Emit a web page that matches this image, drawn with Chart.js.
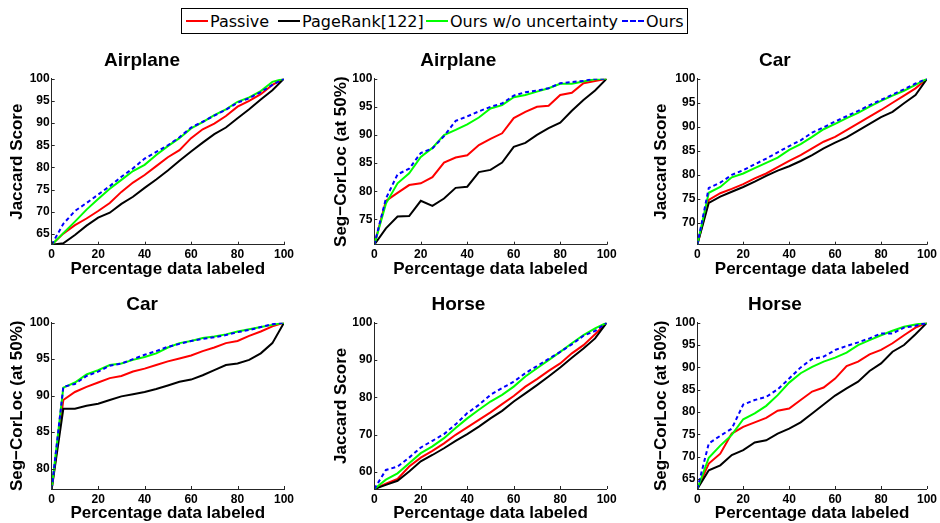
<!DOCTYPE html>
<html>
<head>
<meta charset="utf-8">
<script src="https://cdn.jsdelivr.net/npm/chart.js@4.4.1/dist/chart.umd.min.js"></script>
<style>
  html, body { margin:0; padding:0; background:#fff; overflow:hidden; width:940px; height:523px; }
  #wrap { position:relative; width:940px; height:523px; }
  canvas { position:absolute; }
  #legend { position:absolute; left:181px; top:8px; width:505px; height:24px; border:1px solid #000; background:#fff;
            font-family:"DejaVu Sans", sans-serif; font-size:16px; color:#000; }
  .li { position:absolute; top:0; height:24px; display:flex; align-items:center; white-space:nowrap; }
  .ln { display:inline-block; width:22px; height:0; border-top:2px solid; margin-right:2px; }
  .ln.dash { border-top-style:dashed; }
</style>
</head>
<body>
<div id="wrap">
  <div id="legend"></div>
</div>
<script>
// ---------------- DATA ----------------
const xPct = [0,5,10,15,20,25,30,35,40,45,50,55,60,65,70,75,80,85,90,95,100];
const xTicks = [0,20,40,60,80,100];
const seriesNames = ['Passive','PageRank[122]','Ours w/o uncertainty','Ours'];
const panelTitles = ['Airplane','Airplane','Car','Car','Horse','Horse'];
const yTitles = ['Jaccard Score','Seg\u2212CorLoc (at 50%)','Jaccard Score','Seg\u2212CorLoc (at 50%)','Jaccard Score','Seg\u2212CorLoc (at 50%)'];
const xTitle = 'Percentage data labeled';

// y-axis lower limits and tick labels
const yMins = [62.6, 70.5, 65.5, 77.2, 55.5, 62.8];
const yTicks1 = [65,70,75,80,85,90,95,100];
const yTicks2 = [75,80,85,90,95,100];
const yTicks3 = [70,75,80,85,90,95,100];
const yTicks4 = [80,85,90,95,100];
const yTicks5 = [60,70,80,90,100];
const yTicks6 = [65,70,75,80,85,90,95,100];

// Panel 1: Airplane, Jaccard
const airJacPassive  = [62.6,65.1,67.0,68.5,70.2,72.0,74.5,76.6,78.3,80.3,82.3,83.9,86.6,88.6,89.9,91.6,93.7,95.0,96.5,98.6,100];
const airJacPageRank = [62.6,62.9,64.8,66.9,68.7,69.8,71.8,73.4,75.4,77.3,79.3,81.5,83.6,85.6,87.5,89.0,91.1,93.1,95.3,97.4,100];
const airJacNoUnc    = [62.6,65.2,67.8,70.5,72.9,75.2,77.2,79.2,80.6,82.8,84.8,86.6,88.8,90.2,91.8,93.1,94.8,95.8,97.2,99.3,100];
const airJacOurs     = [62.6,67.3,70.2,72.0,73.9,75.8,77.9,79.8,82.0,83.5,85.0,86.8,89.0,90.3,91.7,93.0,94.6,95.6,97.0,98.6,100];

// Panel 2: Airplane, Seg-CorLoc
const airSegPassive  = [70.5,78.3,79.7,81.1,81.4,82.5,85.1,86.0,86.4,88.2,89.3,90.3,93.0,94.1,95.0,95.2,97.1,97.5,99.2,99.6,100];
const airSegPageRank = [70.5,73.4,75.5,75.6,78.3,77.4,78.7,80.6,80.8,83.4,83.8,85.1,87.9,88.6,90.0,91.2,92.2,94.3,96.2,97.9,100];
const airSegNoUnc    = [70.5,77.8,81.4,83.2,86.1,87.7,90.0,90.9,91.9,93.1,94.7,95.3,96.7,97.1,97.7,98.3,99.1,99.1,99.5,99.9,100];
const airSegOurs     = [70.5,78.7,83.0,84.0,86.8,87.6,89.8,92.5,93.3,94.2,95.0,95.6,97.0,97.6,97.9,98.3,99.2,99.4,99.6,100,100];

// Panel 3: Car, Jaccard
const carJacPassive  = [65.5,74.8,76.2,77.1,78.1,79.3,80.3,81.6,82.9,84.1,85.5,86.9,87.9,89.3,90.7,92.1,93.5,95.0,96.5,98.0,100];
const carJacPageRank = [65.5,74.2,75.5,76.5,77.5,78.6,79.8,80.9,81.8,82.9,84.1,85.5,86.7,87.8,89.2,90.6,92.0,93.1,94.9,96.6,100];
const carJacNoUnc    = [65.5,76.3,77.5,79.5,80.3,81.4,82.5,83.6,85.2,86.4,87.9,89.5,90.6,91.8,92.9,94.2,95.4,96.5,97.5,98.7,100];
const carJacOurs     = [65.5,77.3,78.4,80.0,81.0,82.2,83.4,84.7,86.0,87.2,88.8,89.9,91.1,92.2,93.3,94.5,95.6,96.7,97.8,99.0,100];

// Panel 4: Car, Seg-CorLoc
const carSegPassive  = [77.2,89.4,90.5,91.2,91.8,92.4,92.7,93.3,93.7,94.2,94.7,95.1,95.5,96.1,96.6,97.2,97.5,98.2,98.8,99.5,100];
const carSegPageRank = [77.2,88.2,88.2,88.6,88.9,89.4,89.9,90.2,90.5,90.9,91.4,91.9,92.2,92.8,93.5,94.2,94.4,94.9,95.8,97.2,100];
const carSegNoUnc    = [77.2,91.1,91.8,92.9,93.5,94.2,94.4,94.9,95.3,95.8,96.6,97.2,97.5,97.9,98.1,98.4,98.8,99.1,99.4,99.7,100];
const carSegOurs     = [77.2,91.2,91.6,92.7,93.3,94.1,94.4,95.0,95.6,96.1,96.7,97.1,97.5,97.8,98.0,98.3,98.7,99.0,99.4,99.8,100];

// Panel 5: Horse, Jaccard
const horJacPassive  = [55.5,56.9,58.2,61.5,63.9,65.7,67.7,70.0,72.0,74.0,76.0,78.2,80.4,82.9,84.9,87.1,89.1,91.8,94.0,96.9,100];
const horJacPageRank = [55.5,56.6,57.7,60.2,62.9,64.6,66.4,68.4,70.2,72.2,74.4,76.4,78.9,81.1,83.3,85.6,88.0,90.6,93.1,95.8,100];
const horJacNoUnc    = [55.5,58.0,59.7,62.4,65.1,66.9,69.1,71.8,74.4,76.7,78.9,80.7,82.9,85.6,87.8,90.0,92.2,94.5,96.7,98.5,100];
const horJacOurs     = [55.5,60.6,61.5,63.9,66.6,68.4,70.2,72.8,75.8,78.0,80.7,82.5,84.2,86.5,88.4,90.3,92.2,94.2,96.5,97.8,100];

// Panel 6: Horse, Seg-CorLoc
const horSegPassive  = [62.8,68.5,70.7,75.2,76.7,77.7,78.7,80.3,80.8,82.7,84.6,85.5,87.5,90.3,91.3,92.9,93.9,95.4,97.2,98.9,100];
const horSegPageRank = [62.8,67.0,68.1,70.4,71.5,73.2,73.7,75.2,76.3,77.7,79.7,81.7,83.7,85.3,86.8,89.2,90.9,93.5,95.0,97.4,100];
const horSegNoUnc    = [62.8,69.8,72.5,74.9,78.4,79.7,81.4,83.8,86.6,88.7,90.1,91.3,92.2,93.3,95.0,96.1,97.2,98.2,99.1,99.6,100];
const horSegOurs     = [62.8,73.0,74.7,76.3,81.7,82.7,83.4,85.1,87.5,90.0,91.9,92.4,93.9,94.8,95.6,96.5,97.6,97.6,98.9,99.3,100];

// ---------------- LAYOUT / STYLE ----------------
const panelData = [
  [airJacPassive, airJacPageRank, airJacNoUnc, airJacOurs],
  [airSegPassive, airSegPageRank, airSegNoUnc, airSegOurs],
  [carJacPassive, carJacPageRank, carJacNoUnc, carJacOurs],
  [carSegPassive, carSegPageRank, carSegNoUnc, carSegOurs],
  [horJacPassive, horJacPageRank, horJacNoUnc, horJacOurs],
  [horSegPassive, horSegPageRank, horSegNoUnc, horSegOurs]
];
const panelYTicks = [yTicks1, yTicks2, yTicks3, yTicks4, yTicks5, yTicks6];

const colors = ['#ff0000', '#000000', '#00ff00', '#0000ff'];
const dashes = [[], [], [], [4, 3]];
const orders = [4, 3, 2, 1];

// column geometry: canvas left, canvas width, y-axis width, right padding, y-title offset
const cols = [
  {left:0,   width:310, yw:51.7, rp:26,   yTitlePad:6.8},
  {left:310, width:320, yw:64.3, rp:23.3, yTitlePad:20.8},
  {left:620, width:320, yw:77.3, rp:10.3, yTitlePad:31.5}
];
const rows = [
  {top:40,  chartH:166.0},
  {top:284, chartH:166.3}
];
const CANVAS_H = 241;
const TITLE_H = 38.7;

const AXIS_COLOR = '#262626';
const FONT = '"Liberation Sans", Arial, Helvetica, sans-serif';

// legend
const legendPos = [186, 278, 426, 622];
const legend = document.getElementById('legend');
seriesNames.forEach((name, i) => {
  const it = document.createElement('div');
  it.className = 'li';
  it.style.left = (legendPos[i] - 182) + 'px';
  const ln = document.createElement('span');
  ln.className = 'ln' + (dashes[i].length ? ' dash' : '');
  ln.style.borderTopColor = colors[i];
  const tx = document.createElement('span');
  tx.textContent = name;
  it.appendChild(ln); it.appendChild(tx);
  legend.appendChild(it);
});

const inwardTicks = {
  id: 'inwardTicks',
  afterDraw(chart) {
    const {ctx, chartArea: a, scales: {x, y}} = chart;
    ctx.save();
    ctx.strokeStyle = AXIS_COLOR;
    ctx.lineWidth = 1;
    ctx.beginPath();
    x.ticks.forEach(t => {
      const px = Math.round(x.getPixelForValue(t.value)) + 0.5;
      ctx.moveTo(px, a.bottom); ctx.lineTo(px, a.bottom - 3);
    });
    y.ticks.forEach(t => {
      const py = Math.round(y.getPixelForValue(t.value)) + 0.5;
      ctx.moveTo(a.left, py); ctx.lineTo(a.left + 3, py);
    });
    ctx.stroke();
    ctx.restore();
  }
};

const wrap = document.getElementById('wrap');
for (let p = 0; p < 6; p++) {
  const col = cols[p % 3], row = rows[Math.floor(p / 3)];
  const cv = document.createElement('canvas');
  cv.width = col.width; cv.height = CANVAS_H;
  cv.style.left = col.left + 'px'; cv.style.top = row.top + 'px';
  cv.style.width = col.width + 'px'; cv.style.height = CANVAS_H + 'px';
  wrap.appendChild(cv);
  const xAxisH = CANVAS_H - TITLE_H - row.chartH;
  const ticksY = panelYTicks[p];

  new Chart(cv.getContext('2d'), {
    type: 'line',
    data: {
      datasets: panelData[p].map((arr, i) => ({
        label: seriesNames[i],
        data: arr.map((v, k) => ({x: xPct[k], y: v})),
        borderColor: colors[i],
        borderWidth: 2,
        borderDash: dashes[i],
        pointRadius: 0,
        tension: 0,
        fill: false,
        order: orders[i]
      }))
    },
    options: {
      responsive: false,
      animation: false,
      devicePixelRatio: 1,
      layout: {padding: {left: 0, right: col.rp, top: 0, bottom: 0}},
      plugins: {
        legend: {display: false},
        tooltip: {enabled: false},
        title: {
          display: true,
          text: panelTitles[p],
          color: '#000',
          font: {family: FONT, size: 19, weight: 'bold', lineHeight: 1.2},
          padding: {top: 9.6, bottom: TITLE_H - 22.8 - 9.6}
        }
      },
      scales: {
        x: {
          type: 'linear',
          min: 0, max: 100,
          afterBuildTicks: s => { s.ticks = xTicks.map(v => ({value: v})); },
          afterFit: s => { s.height = xAxisH; },
          grid: {display: false, drawTicks: false},
          border: {display: true, color: AXIS_COLOR, width: 1},
          ticks: {color: '#000', padding: 3, maxRotation: 0, autoSkip: false,
                  font: {family: FONT, size: 12, weight: 'bold'}},
          title: {display: true, text: xTitle, color: '#000',
                  font: {family: FONT, size: 17, weight: 'bold', lineHeight: 1.2},
                  padding: {top: 0, bottom: Math.max(0, xAxisH - 34.7)}}
        },
        y: {
          type: 'linear',
          min: yMins[p], max: 100,
          afterBuildTicks: s => { s.ticks = ticksY.map(v => ({value: v})); },
          afterFit: s => { s.width = col.yw; },
          grid: {display: false, drawTicks: false},
          border: {display: true, color: AXIS_COLOR, width: 1},
          ticks: {color: '#000', padding: 2, autoSkip: false,
                  font: {family: FONT, size: 12, weight: 'bold'}},
          title: {display: true, text: yTitles[p], color: '#000',
                  font: {family: FONT, size: 17, weight: 'bold', lineHeight: 1.2},
                  padding: {top: col.yTitlePad, bottom: 0}}
        }
      }
    },
    plugins: [inwardTicks]
  });
}
</script>
</body>
</html>
